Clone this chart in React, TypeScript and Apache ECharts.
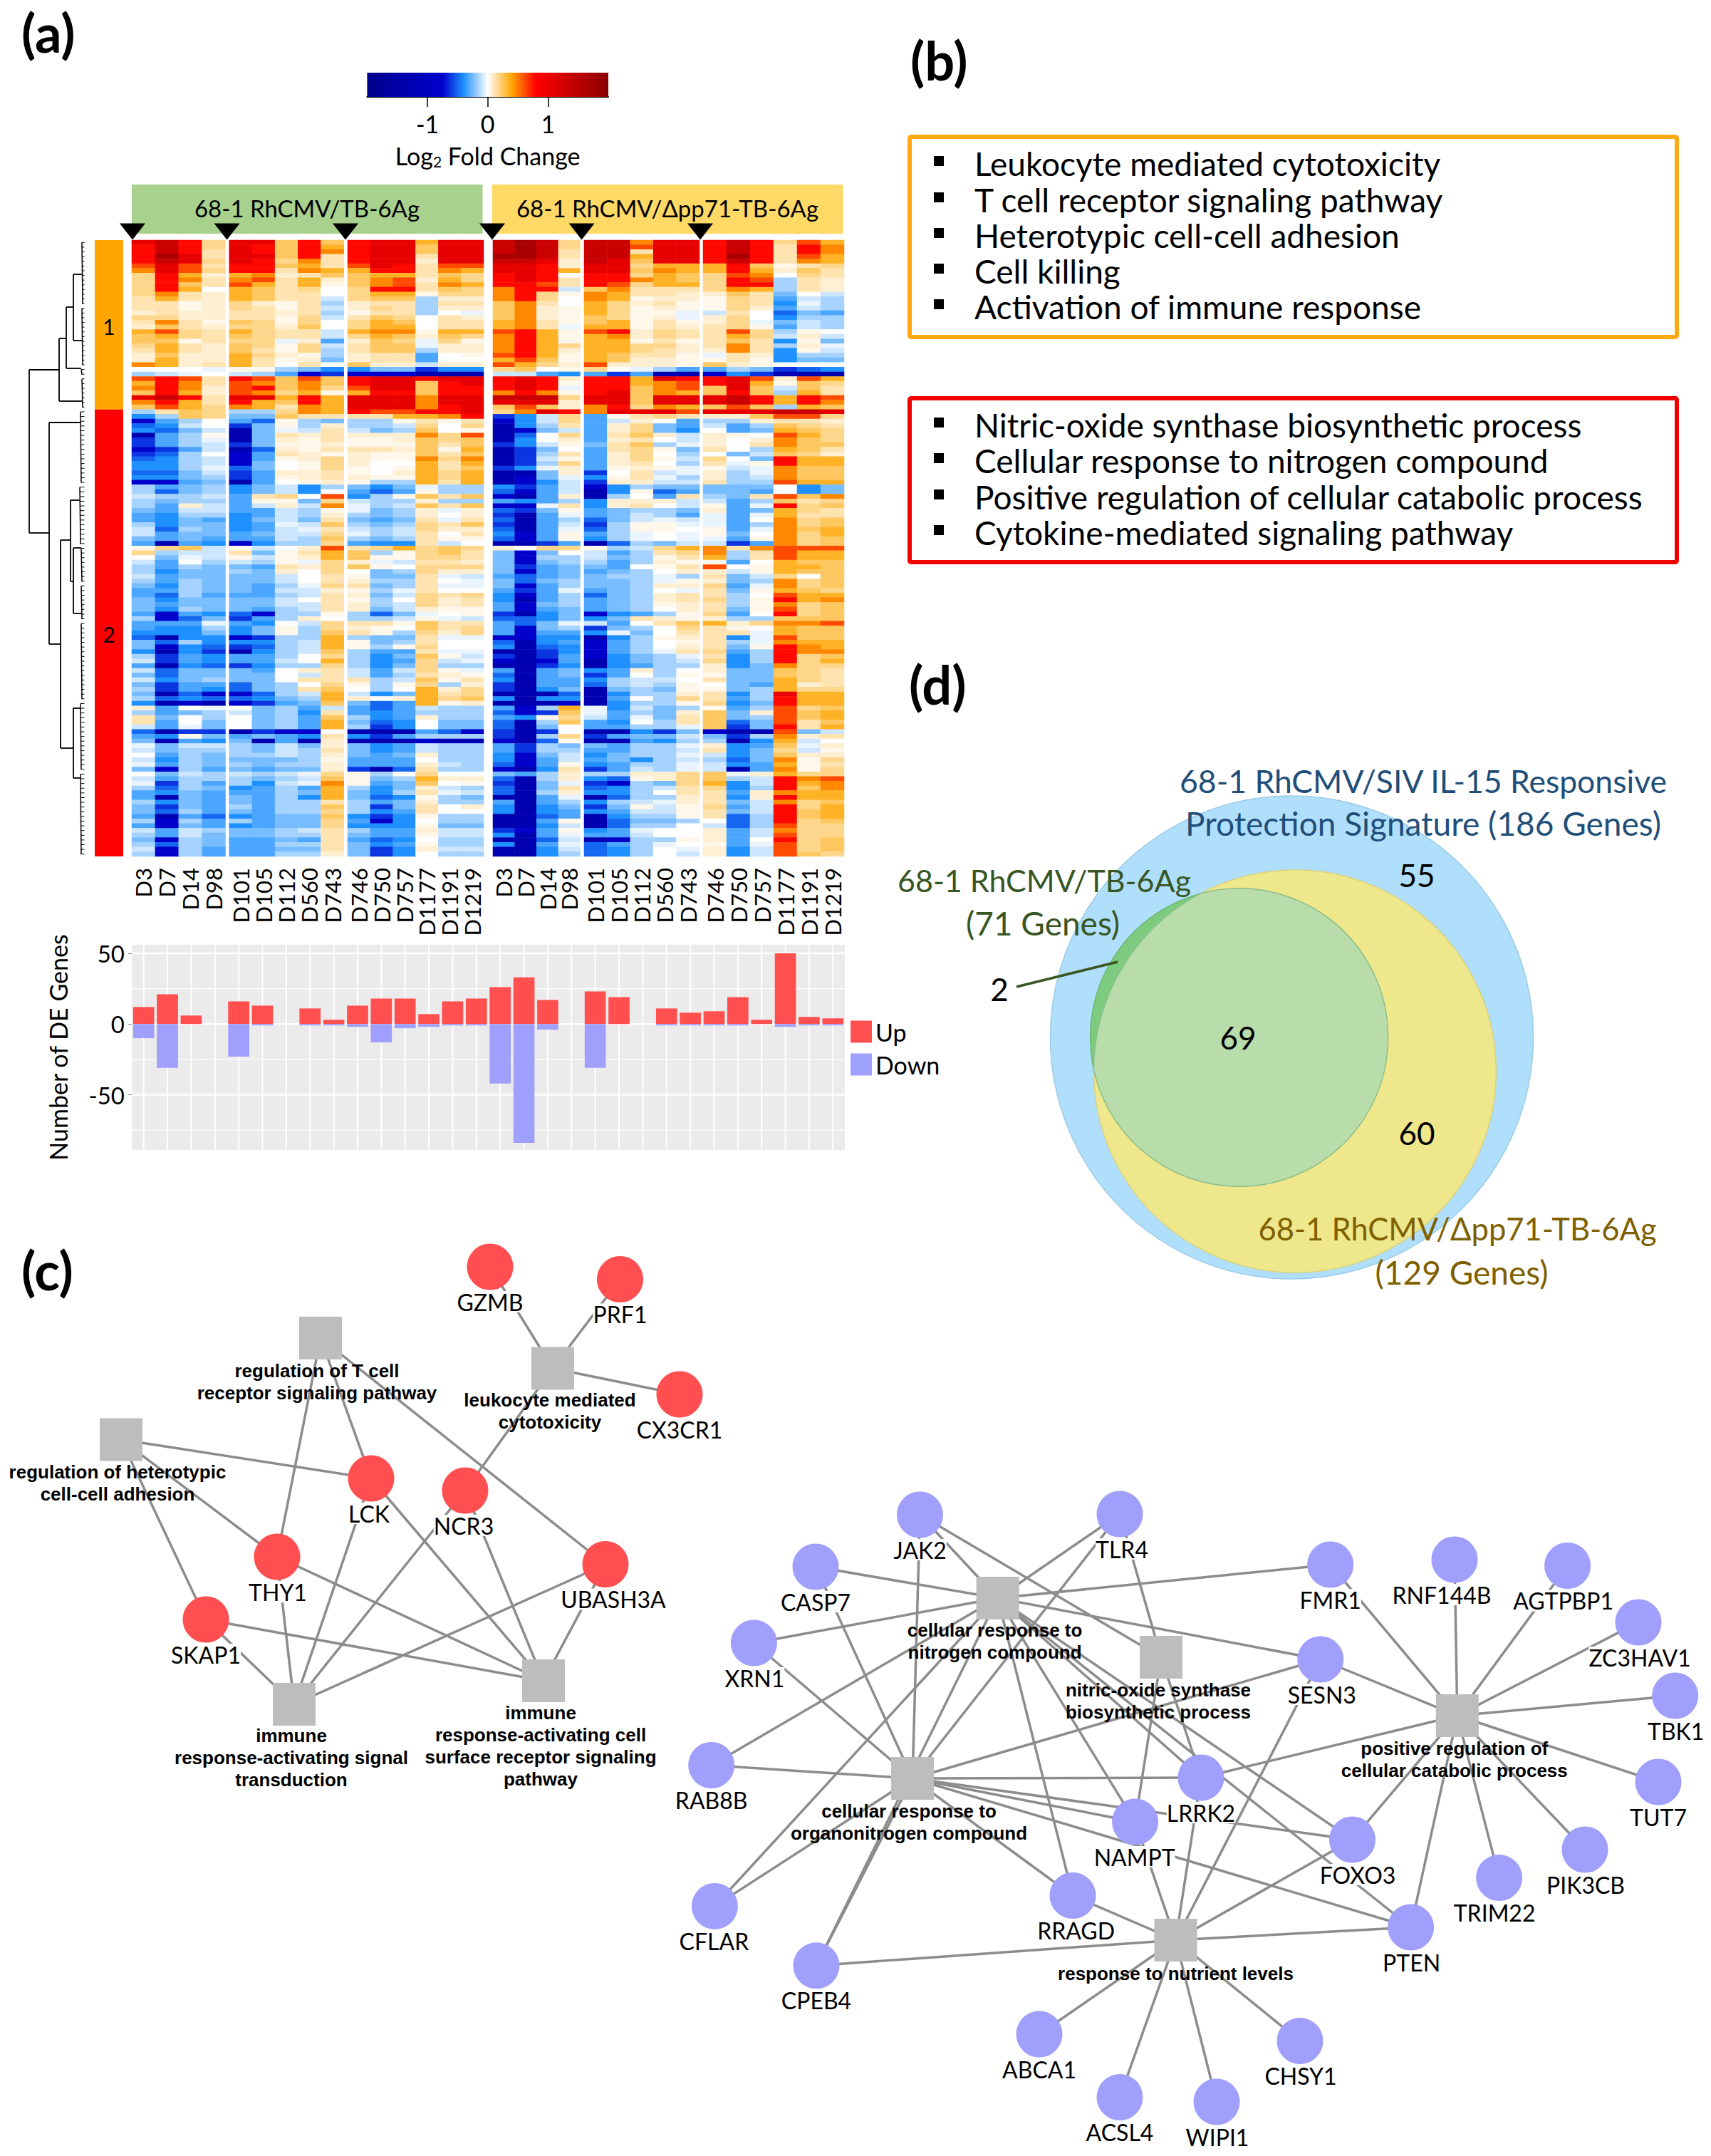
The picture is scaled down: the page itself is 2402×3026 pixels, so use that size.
import React, { useEffect, useRef } from "react";
import * as echarts from "echarts";

const days = ["D3","D7","D14","D98","D101","D105","D112","D560","D743","D746","D750","D757","D1177","D1191","D1219"];
const blockSizes = [4,5,6,4,5,6];
const blockLeft = [185,321.7,488,692,820,987];
const blockRight = [316.5,482.7,679,814.5,982,1185];
const heatTop = 337, heatBottom = 1202;

const cellLevels: Record<string, number> = {
  j:-1.3,i:-0.8,h:-0.62,g:-0.5,f:-0.4,e:-0.32,d:-0.24,c:-0.16,b:-0.09,a:-0.04,
  "0":0,"1":0.035,"2":0.07,"3":0.12,"4":0.18,"5":0.25,"6":0.34,"7":0.47,"8":0.62,"9":0.78,A:1.05,B:1.35,C:1.7,
};
const heatRows = [
"AB94 AA595 9AA6AA BCB4 BB7AA 9B9486","9B94 A9596 9AA5AA BCB4 BB8AA 9B9397","9B93 A9597 9AA5AA BCB3 BB3AA 9B9397",
"9CA3 AA593 9AA3AA CCB3 BB6AA 9C9386","9BA4 A9473 9AA2AA BBA2 BA5AA 9B9376","8A83 99563 8A9388 AA92 AA466 695134",
"7A84 99376 699376 AA96 AA576 696253","4962 67235 566354 9A90 99465 487043","4973 78362 578264 9A93 99765 498c32",
"4953 86361 578376 9983 98466 499c32","4960 65340 499354 799b 57333 476c32","4732 65330 466144 7941 76332 253d0b",
"3632 6533b 455c22 7940 76122 143ebc","3312 4213c 233c33 5730 64231 143fac","3312 4313b 243c22 5721 64121 142ebc",
"2322 3323c 133c0a 5721 6411a b30gde","4422 3314b 354032 5721 5412a 240fcc","3731 54140 465033 6731 56131 24adbc",
"2532 44250 466033 673a 66132 341ebc","6843 6433b 677166 8961 89243 384c10","5643 5433b 465254 7961 67243 364b2b",
"5513 44a2e 254a41 7961 66131 353f1d","4632 5414b 355a22 7964 66442 373c2a","3632 5314c 355c22 7962 66432 273f1b",
"2522 6421c 233e01 8961 65331 a32fcc","2622 6312d 233e00 6851 65221 131fdd","7623 63030 522b22 8642 82221 521000",
"000a 11cdf fddhff 4501 40ace ecdhgf","cba0 bceih iiijjj bbef ehejj ifhjjj","8983 98585 9AA9AA 9A92 996A9 9A8286",
"6973 87575 9AA59A 9A91 99678 9A6154","7972 89574 8AA599 9A9a 99578 5A5b53","5962 87461 699599 7971 9A576 595c63",
"AB93 AA696 AAA7AA BBB4 AA5AA AB9698","7963 96596 AAA7AA AAA2 AA5AA AB9697","5864 76376 AAA79A 5852 79476 585c65",
"c354 cc476 98899A 47A9 7AAA8 AAABBA","fc54 dd533 336679 hfb4 e1343 225884","iec0 eg1cd cc1313 ifb4 eb20e cc2332",
"gfb0 hd1c2 ccb404 jfc3 e24de bec543","fgdb jdab3 bdc501 jidb e24df 0ed654","jec1 jd323 222748 jg04 e352b 210864",
"heca jd213 112545 jf02 e230b 202754","hecb hd112 111535 hfb1 d35ca 203755","iheb jg213 332516 jhd0 e341d 30c653",
"hgc0 ie321 211535 jhc3 e240c 0db542","gfcb ie124 211747 jhb1 e241b 40d966","ffcb id014 200636 jhc4 e230c 3a1966",
"ffca gd014 101635 hfa2 e121a 1ba755","ggdb he223 102646 jjd2 h03ba 2ca755","ffdc he123 211646 jida f13ac 2cb755",
"iied je012 1cc636 jifb h22bb 3cc866","cedc fdbfc dfdacc fheb ifcdd ddd0fd","cgdc fdbf0 ege1cc gieb jf1ge dde0fd",
"bccb e3408 fc1535 ije2 jc0e3 cd3857","cdcc e11d4 bcc2cc efec f222b bec534","ce2b eb2b7 acb535 iia3 f230b 1ea945",
"debb eebc1 adc2a2 ghd1 edccd 2ed643","efcc febc2 cdc202 hjea edbce aea633","efde fdbd3 ded3a3 gjec gdbab ae0745",
"cfdd feab5 cdc435 hjeb hc11a aec745","bgcd feba3 bcb422 gjea gc110 1ea756","bedd edbb4 acb303 fie1 eca0a 1d0746",
"dede eebc5 cdc311 gie1 fca0a ae1745","ejef ifcc4 eff3b0 jjhe jgcdb bhe745","145b 1b028 346454 2044 1cb46 737888",
"4cbb 3d136 5c1453 did0 bec34 7c3866","0dab 1b126 511443 dicc bdc13 6c3866","be0c bc1a4 2ab332 didc cec21 1e0655",
"cecd de324 510444 dhed de013 801665","cfdd cd204 0dc422 died edc02 2b1655","bedd ddb03 1dd3ab eged dccac 3db405",
"cecd ddb03 2cc30a dgdc ddca1 2dc745","dfcd deca4 3dc3aa diec ddc22 4ea745","eecd debb2 1ca300 ehea edc0a 3d1654",
"egce eecb3 2db434 fiec gdc23 3c0866","dfdd ddb03 1c0423 fjec edc23 4c1967","dedd ddbb3 2cb423 eidc edc12 3c1745",
"dfcd decb3 2db211 eied edc02 3d1845","eief gicc1 cgda01 hjfd ifec1 4e0945","cigd hec20 ccb1ab ggfd fd321 2cc555",
"eeea ef0b4 331533 egda be035 624778","effc fd1c4 210534 eidc hdc04 310655","fffd fd1c5 31c424 eiee fad03 33a655",
"gjff ihcc6 cdd3aa iiff jfc12 3fa855","dgcf ffcb6 1dc300 gjfe iec01 3ca766","difg hgcb6 1c1400 fjgf iec02 3d1976",
"fjfh jfcb5 cee3aa jjhf ieca3 4ec977","chef eec04 cfd51b hjhe ifdca 3fc945","bhef eeb06 cfe4ba ijie jfdcb 4fc946",
"ejfg hfcc4 cfd4cc jjhf jfecc 2fd744","bgdd de023 beb41a ejed fe2c0 2dd543","dgdd dd0b3 bec321 gjed he0c1 1dd543",
"bfdc dd033 3cb513 fjee fcbb0 3dd643","dhee gdc04 1c14c2 hjee gcbc1 0de623","chef gdc35 0c0624 hjfd jdcd1 1dc644",
"djgi igcb6 bfd634 jjjg jfcc2 3fcA66","cgfg gfdc6 202645 fjff je0c4 3ec966","fjij ihed5 dge612 jjji jfcc1 4fd966",
"2e0a 0dceb egebcc eic6 afbdc 1ec845","cedc bdcf3 efeccc gih5 aecd2 5d2856","3d0c 0dce5 cfe2cc ef14 bead3 5dc856",
"3e0d 0dce6 dgf0dd gjc5 ef0c3 5gd835","bead 0dce6 chf0dd gjd0 eecca 5hd936","gjhh jhii0 jjjegi hjh0 jjfhd ijj8db",
"ef1d edef3 fheccc hjc4 heddb dhc723","djef djej2 jjjijj ijg1 jjefc cjf6b0","adbb cdbd2 dfebcc ehcd decca 2fe5a2",
"bdcc cdbc3 dfebcc ehcc eeccb 3fd4b1","0ecd ccbc2 ded2cc fidb fdcca bfd522","bfcd dddc1 eee0cc fieb edfcb cgd714",
"aecd cdcc2 eee2bc gie1 fecca bfe613","dice dedd2 hjg3cc ijf3 hebca bje714","0dbc bcba4 1c0400 dec2 cc224 5a2644",
"becc cdcb5 1dc622 gjc2 fg124 5cb978","ahce cfba7 1ed501 hjda hicd4 6fb967","cgcd fece6 cfd2bc gjd3 gfcb3 4fc957",
"efde eecd6 dfc3ab gjc2 ffc03 3e2766","ejde decf6 dgf1cd jjea jgcc2 3f2966","cfde decc3 ced2cc ejec fcba2 3db745",
"dhde cecc5 chd302 fjfd hd1b1 4eb946","dgce decc4 cfe300 fjfe febb1 3db956","ejeg fedd5 fhf1cc jjge jfcc1 3gc956",
"cice cedd4 eif0cc jje1 jgddc 0gc945","eide fedd4 fff1dd jjfb jgcc0 bgc844","bebc ddcb3 cee2bb hie1 fea00 2eb744",
"cebd ddcc3 dee1bb fjea eeb00 2eb844","dicd eede3 egf0cc jjgb jicc1 2e0945","cgcd eecc3 dfe1cc fjea geca0 1ea845",
"bice eedd3 dhf2bb jjfb gfc0a 2fb845","cice eecc2 dhf0cc jjfc gfc0b 2fb854",
];

const colorStops: [number, string][] = [[-2,"#00008b"],[-0.75,"#0000cd"],[-0.4,"#1e90ff"],[0,"#ffffff"],[0.4,"#ffa500"],[0.8,"#ff0000"],[2,"#8b0000"]];
const clusterSpans = [{ name:"1", from:0, to:36, color:"#ffa500" },{ name:"2", from:36, to:131, color:"#ff0000" }];

const deUp = [12,21,6,0,16,13,0,11,3,13,18,18,7,16,18,26,33,17,0,23,19,0,11,8,9,19,3,50,5,4];
const deDown = [-10,-31,0,0,-23,-1,0,-1,-1,-2,-13,-3,-2,-1,-1,-42,-84,-4,0,-31,0,0,-1,-1,-1,-1,0,-2,-1,-1];
const gridMajor = [-50,0,50];
const gridMinor = [-75,-25,25];

const dendroSegments = [
[41,519,41,748],[41,519,83,519],[83,475,83,563],[83,563,115,563],[83,475,93,475],[93,431,93,517],[93,517,114,517],[93,431,103,431],
[103,385,103,478],[103,385,115,385],[103,478,115,478],[41,748,69,748],[69,593,69,904],[69,593,109,593],[109,593,113,593],[69,904,85,904],
[85,758,85,1050],[85,758,99,758],[99,702,99,816],[99,702,112,702],[99,816,103,816],[103,769,103,861],[103,769,114,769],[103,861,114,861],
[85,1050,103,1050],[103,994,103,1092],[103,994,113,994],[103,1092,113,1092],
];
const dendroCombs = [[115,0,13],[115,14,26],[114,27,28],[115,29,35],[113,36,51],[112,52,64],[114,65,72],[114,73,80],[114,81,97],[113,98,112],[113,113,130]];

const triangleX = [186,318.6,485,691,816.6,983];

const redGenes: [string,number,number,number][] = [
["GZMB",688,1778,0],["PRF1",870.5,1795.5,0],["CX3CR1",954,1957,0],["LCK",521,2075,-3],["NCR3",653,2092,-2],["THY1",389,2185,1],["UBASH3A",850,2195.5,11],["SKAP1",289,2273,0],
];
const blueGenes: [string,number,number,number][] = [
["JAK2",1291.5,2126,0],["TLR4",1572,2125,3],["CASP7",1145,2199,0],["XRN1",1058.4,2306,1],["FMR1",1867.7,2196,0],["RNF144B",2042,2189,-18],["AGTPBP1",2200.6,2197.5,-6],
["ZC3HAV1",2300,2277,2],["TBK1",2351.7,2380,1],["SESN3",1853.8,2329,2],["RAB8B",998.7,2477.5,0],["LRRK2",1686,2495,0],["NAMPT",1593.6,2557,-1],["FOXO3",1898.5,2582,7.5],
["TUT7",2328,2501,0],["PIK3CB",2225,2596,1],["TRIM22",2104.6,2635.6,-6.5],["PTEN",1980.6,2705,1],["RRAGD",1506,2660.5,4.6],["CFLAR",1003.4,2675.4,-1],["CPEB4",1146,2758.8,0],
["ABCA1",1459,2855,0],["ACSL4",1572,2943.6,0],["WIPI1",1708,2950,1],["CHSY1",1825,2864.6,1],
];
const termNodes: [string,number,number,string,number,number][] = [
["tcell",450,1878,"regulation of T cell\nreceptor signaling pathway",-5,61],
["leuko",776,1920.5,"leukocyte mediated\ncytotoxicity",-4,60],
["hetero",170,2020.5,"regulation of heterotypic\ncell-cell adhesion",-5,61],
["signal",413,2392,"immune\nresponse-activating signal\ntransduction",-4,75],
["surface",763,2359,"immune\nresponse-activating cell\nsurface receptor signaling\npathway",-4,91],
["nitro",1400.6,2243,"cellular response to\nnitrogen compound",-4,60],
["nos",1630,2326,"nitric-oxide synthase\nbiosynthetic process",-4,61],
["catab",2045.8,2408,"positive regulation of\ncellular catabolic process",-4,61],
["organo",1281,2496,"cellular response to\norganonitrogen compound",-5,61],
["nutrient",1650.5,2723,"response to nutrient levels",0,47],
];
const termLinks: [string,string[]][] = [
["leuko",["GZMB","PRF1","CX3CR1","NCR3"]],
["tcell",["THY1","LCK","UBASH3A"]],
["hetero",["LCK","THY1","SKAP1"]],
["signal",["SKAP1","THY1","LCK","NCR3","UBASH3A"]],
["surface",["SKAP1","THY1","LCK","NCR3","UBASH3A"]],
["nitro",["JAK2","TLR4","CASP7","XRN1","FMR1","SESN3","RAB8B","CFLAR","LRRK2","NAMPT","FOXO3","RRAGD","CPEB4","PTEN"]],
["organo",["XRN1","CASP7","JAK2","TLR4","SESN3","RAB8B","LRRK2","NAMPT","FOXO3","RRAGD","CFLAR","CPEB4","PTEN"]],
["nos",["JAK2","TLR4","LRRK2","NAMPT"]],
["catab",["FMR1","RNF144B","AGTPBP1","ZC3HAV1","TBK1","SESN3","TUT7","PIK3CB","TRIM22","PTEN","FOXO3","LRRK2"]],
["nutrient",["RRAGD","NAMPT","LRRK2","SESN3","FOXO3","PTEN","CPEB4","ABCA1","ACSL4","WIPI1","CHSY1"]],
];

const vennCircles = [[1813.5,1456,339],[1818,1503.6,282.5],[1739.6,1456,209]];
const vennFills = ["#b0dffb","#efe78b","#7ccb7e"];
const vennStrokes = ["#9ccbe8","#d9d27f","#6fb874"];
const lensFill = "#b9dcab";

const orangeList = ["Leukocyte mediated cytotoxicity","T cell receptor signaling pathway","Heterotypic cell-cell adhesion","Cell killing","Activation of immune response"];
const orangeY = [229,280,330,380,430];
const redList = ["Nitric-oxide synthase biosynthetic process","Cellular response to nitrogen compound","Positive regulation of cellular catabolic process","Cytokine-mediated signaling pathway"];
const redY = [596,646,697,747];

const SANS = "Lato";

function hexRgb(h: string) { return [1,3,5].map((i) => parseInt(h.slice(i,i+2),16)); }
function colorAt(v: number) {
  for (let i = 0; i < colorStops.length - 1; i++) {
    const [a, ca] = colorStops[i], [b, cb] = colorStops[i+1];
    if (v <= b) {
      const t = (v-a)/(b-a), x = hexRgb(ca), y = hexRgb(cb);
      return `rgb(${x.map((q,k)=>Math.round(q+(y[k]-q)*t)).join(",")})`;
    }
  }
  return colorStops[colorStops.length-1][1];
}

function buildOption() {
  const grids: any[] = [], xAxes: any[] = [], yAxes: any[] = [], series: any[] = [];
  let startCol = 0;
  const rowNames = heatRows.map((_,i)=>String(i));
  const dayOf = (c:number)=>days[c%15];
  blockSizes.forEach((n,b)=>{
    grids.push({ left:blockLeft[b], top:heatTop, width:blockRight[b]-blockLeft[b], height:heatBottom-heatTop });
    const names = Array.from({length:n},(_,i)=>dayOf(startCol+i));
    xAxes.push({ type:"category", gridIndex:b, data:names, axisLine:{show:false}, axisTick:{show:false},
      axisLabel:{ rotate:90, interval:0, margin:16, fontFamily:SANS, fontSize:31, color:"#000" } });
    yAxes.push({ type:"category", gridIndex:b, data:rowNames, inverse:true, show:false });
    const data:any[] = [];
    heatRows.forEach((row,r)=>{
      const part = row.split(" ")[b];
      for (let c=0;c<n;c++) data.push([c,r,cellLevels[part[c]]]);
    });
    series.push({ type:"heatmap", xAxisIndex:b, yAxisIndex:b, data, silent:true, progressive:0, itemStyle:{borderWidth:0} });
    startCol += n;
  });
  const heatIdx = series.map((_,i)=>i);

  // bars: grid 6
  grids.push({ show:true, left:185, top:1326, width:1001, height:288, backgroundColor:"#ebebeb", borderWidth:0 });
  xAxes.push({ type:"category", gridIndex:6, data:[...days,...days], axisLine:{show:false}, axisTick:{show:false}, axisLabel:{show:false} });
  yAxes.push({ type:"value", gridIndex:6, min:-89, max:56, splitLine:{show:false}, axisLine:{show:false},
    axisTick:{show:true, length:5, lineStyle:{color:"#7f7f7f"}, customValues:gridMajor},
    axisLabel:{ customValues:gridMajor, fontFamily:SANS, fontSize:33, color:"#000", margin:10 },
    name:"Number of DE Genes", nameLocation:"middle", nameGap:87, nameRotate:90, nameTextStyle:{fontFamily:SANS,fontSize:34,color:"#000"} });
  series.push({ type:"custom", name:"vgrid", xAxisIndex:6, yAxisIndex:6, z:1, silent:true, data:deUp.map((_,i)=>[i,0]),
    renderItem:(p:any,api:any)=>{ const x=api.coord([api.value(0),0])[0]; const c=p.coordSys;
      return { type:"line", shape:{x1:x,y1:c.y,x2:x,y2:c.y+c.height}, style:{stroke:"#fff",lineWidth:2} }; } });
  series.push({ type:"custom", name:"hgrid", xAxisIndex:6, yAxisIndex:6, z:1, silent:true,
    data:[...gridMajor.map(v=>[0,v,2.5]),...gridMinor.map(v=>[0,v,1.2])],
    renderItem:(p:any,api:any)=>{ const y=api.coord([0,api.value(1)])[1]; const c=p.coordSys;
      return { type:"line", shape:{x1:c.x,y1:y,x2:c.x+c.width,y2:y}, style:{stroke:"#fff",lineWidth:api.value(2)} }; } });
  series.push({ type:"bar", name:"Up", xAxisIndex:6, yAxisIndex:6, stack:"de", barWidth:"89%", data:deUp, itemStyle:{color:"#ff4f4f"}, z:2, silent:true });
  series.push({ type:"bar", name:"Down", xAxisIndex:6, yAxisIndex:6, stack:"de", barWidth:"89%", data:deDown, itemStyle:{color:"#9f9ffc"}, z:2, silent:true });

  // page grid: 7
  grids.push({ left:0, top:0, width:2402, height:3026 });
  xAxes.push({ type:"value", gridIndex:7, min:0, max:2402, show:false });
  yAxes.push({ type:"value", gridIndex:7, min:0, max:3026, inverse:true, show:false });

  // colour bar: 8
  grids.push({ left:515.4, top:102, width:338.6, height:34 });
  xAxes.push({ type:"value", gridIndex:8, min:-2, max:2, interval:1, splitLine:{show:false},
    axisLine:{show:true,lineStyle:{color:"#000",width:2}}, axisTick:{show:true,length:14,lineStyle:{color:"#000",width:1.5},customValues:[-1,0,1]},
    axisLabel:{customValues:[-1,0,1],margin:20,fontFamily:SANS,fontSize:34,color:"#000"},
    name:"{n|Log}{s|2}{n| Fold Change}", nameLocation:"middle", nameGap:63,
    nameTextStyle:{ rich:{ n:{fontFamily:SANS,fontSize:34,color:"#000",lineHeight:38}, s:{fontFamily:SANS,fontSize:21,color:"#000",verticalAlign:"bottom",lineHeight:21} } } });
  yAxes.push({ type:"value", gridIndex:8, min:0, max:1, show:false });
  series.push({ type:"custom", xAxisIndex:8, yAxisIndex:8, silent:true, data:[[-2,0]],
    renderItem:(p:any,api:any)=>{ const c=p.coordSys;
      return { type:"rect", shape:{x:c.x,y:c.y,width:c.width,height:c.height},
        style:{ fill:new echarts.graphic.LinearGradient(0,0,1,0,colorStops.map(([v,col])=>({offset:(v+2)/4,color:col}))) } }; } });

  // cluster bar: 9
  grids.push({ left:133, top:heatTop, width:40, height:heatBottom-heatTop });
  xAxes.push({ type:"value", gridIndex:9, min:0, max:1, show:false });
  yAxes.push({ type:"value", gridIndex:9, min:0, max:131, inverse:true, show:false });
  series.push({ type:"custom", xAxisIndex:9, yAxisIndex:9, silent:true, data:clusterSpans.map((s,i)=>[i,s.from,s.to]),
    renderItem:(p:any,api:any)=>{ const i=api.value(0), a=api.coord([0,api.value(1)]), b=api.coord([1,api.value(2)]);
      return { type:"group", children:[
        { type:"rect", shape:{x:a[0],y:a[1],width:b[0]-a[0],height:b[1]-a[1]}, style:{fill:clusterSpans[i].color} },
        { type:"text", x:(a[0]+b[0])/2, y:(clusterSpans[i].from===0?458:890), style:{text:clusterSpans[i].name,font:`30px ${SANS}`,fill:"#000",textAlign:"center",textVerticalAlign:"middle"} },
      ]}; } });

  // dendrogram on page grid
  series.push({ type:"custom", xAxisIndex:7, yAxisIndex:7, silent:true, data:dendroSegments,
    renderItem:(_:any,api:any)=>{ const a=api.coord([api.value(0),api.value(1)]), b=api.coord([api.value(2),api.value(3)]);
      return { type:"line", shape:{x1:a[0],y1:a[1],x2:b[0],y2:b[1]}, style:{stroke:"#000",lineWidth:1.8} }; } });
  const rowH = (heatBottom-heatTop)/131;
  series.push({ type:"custom", xAxisIndex:7, yAxisIndex:7, silent:true, data:dendroCombs,
    renderItem:(_:any,api:any)=>{ const x=api.value(0), r0=api.value(1), r1=api.value(2);
      const kids:any[]=[{type:"line",shape:{x1:x,y1:heatTop+rowH*(r0+.5),x2:x+1,y2:heatTop+rowH*(r1+.5)},style:{stroke:"#000",lineWidth:1.5}}];
      for(let r=r0;r<=r1;r++){ const y=heatTop+rowH*(r+.5); kids.push({type:"line",shape:{x1:x,y1:y,x2:118.5,y2:y},style:{stroke:"#000",lineWidth:1}}); }
      return {type:"group",children:kids}; } });

  // triangles
  series.push({ type:"scatter", xAxisIndex:7, yAxisIndex:7, silent:true, z:5, symbol:"triangle", symbolRotate:180, symbolSize:[36,23],
    itemStyle:{color:"#000",opacity:1}, data:triangleX.map(x=>[x,325]) });

  // venn
  series.push({ type:"custom", xAxisIndex:7, yAxisIndex:7, silent:true, z:2, data:vennCircles.map((c,i)=>[...c,i]),
    renderItem:(_:any,api:any)=>{ const i=api.value(3), c=api.coord([api.value(0),api.value(1)]);
      return { type:"circle", shape:{cx:c[0],cy:c[1],r:api.value(2)}, style:{fill:vennFills[i],stroke:vennStrokes[i],lineWidth:1.5} }; } });
  const [, Y, G] = vennCircles;
  series.push({ type:"custom", xAxisIndex:7, yAxisIndex:7, silent:true, z:3, data:[[Y[0],Y[1]]],
    renderItem:(_:any,api:any)=>{
      const a=api.coord([Y[0],Y[1]]), b=api.coord([G[0],G[1]]);
      const dx=b[0]-a[0], dy=b[1]-a[1], d=Math.hypot(dx,dy), R=Y[2], r=G[2];
      const h0=(d*d+R*R-r*r)/(2*d), h=Math.sqrt(R*R-h0*h0), ux=dx/d, uy=dy/d;
      const mx=a[0]+h0*ux, my=a[1]+h0*uy;
      const q1=[mx+uy*h, my-ux*h], q2=[mx-uy*h, my+ux*h];
      const up = q1[0]>q2[0] ? q1 : q2, low = q1[0]>q2[0] ? q2 : q1;
      return { type:"path", shape:{ pathData:`M${up[0]} ${up[1]} A${R} ${R} 0 0 0 ${low[0]} ${low[1]} A${r} ${r} 0 1 0 ${up[0]} ${up[1]} Z` },
        style:{fill:lensFill,stroke:"#8fbf8f",lineWidth:1.2} };
    } });

  // network
  const nodes:any[] = [];
  const geneNode=(g:[string,number,number,number],color:string)=>({ name:g[0], value:[g[1],g[2]], symbol:"circle", symbolSize:65, itemStyle:{color},
    label:{show:true,position:"inside",offset:[g[3],49],formatter:g[0],fontFamily:SANS,fontSize:32,color:"#000",backgroundColor:"#fff",lineHeight:30} });
  redGenes.forEach(g=>nodes.push(geneNode(g,"#ff4f50")));
  blueGenes.forEach(g=>nodes.push(geneNode(g,"#a0a0fc")));
  termNodes.forEach(t=>nodes.push({ name:t[0], value:[t[1],t[2]], symbol:"rect", symbolSize:60, itemStyle:{color:"#bdbdbd"},
    label:{show:true,position:"inside",offset:[t[4],t[5]],formatter:t[3],fontFamily:"Liberation Sans",fontWeight:"bold",fontSize:26,color:"#000",lineHeight:31,align:"center"} }));
  const links:any[]=[];
  termLinks.forEach(([t,gs])=>gs.forEach(g=>links.push({source:t,target:g})));
  series.push({ type:"graph", layout:"none", coordinateSystem:"cartesian2d", xAxisIndex:7, yAxisIndex:7, silent:true, z:4, roam:false,
    data:nodes, links, lineStyle:{color:"#8c8c8c",width:3.5,opacity:1,curveness:0}, emphasis:{disabled:true} });

  const T=(text:string,x:number,y:number,font:string,fill="#000",align="center")=>({ type:"text", z:100, x, y,
    style:{text,font,fill,textAlign:align,textVerticalAlign:"middle"} });
  const BOLD=`bold 74px ${SANS}`, LIST=`46px ${SANS}`, NUM=`44px ${SANS}`;
  const elements:any[] = [
    { type:"rect", z:1, shape:{x:185,y:259,width:492.5,height:69}, style:{fill:"#a9d18e"} },
    { type:"rect", z:1, shape:{x:691,y:259,width:492.5,height:69}, style:{fill:"#ffd966"} },
    T("68-1 RhCMV/TB-6Ag",431,292,`33px ${SANS}`),
    T("68-1 RhCMV/Δpp71-TB-6Ag",937,292,`33px ${SANS}`),
    T("(a)",30,45,BOLD,"#000","left"),
    T("(b)",1278,84,BOLD,"#000","left"),
    T("(c)",30,1782,BOLD,"#000","left"),
    T("(d)",1276,960,BOLD,"#000","left"),
    { type:"rect", z:1, shape:{x:1277,y:192,width:1077,height:281,r:2}, style:{fill:"none",stroke:"#ffa812",lineWidth:6} },
    { type:"rect", z:1, shape:{x:1277,y:559,width:1077,height:230,r:2}, style:{fill:"none",stroke:"#f00000",lineWidth:6} },
    T("68-1 RhCMV/SIV IL-15 Responsive",1998,1095,`44.5px ${SANS}`,"#1f4e79"),
    T("Protection Signature (186 Genes)",1998,1155,`46px ${SANS}`,"#1f4e79"),
    T("68-1 RhCMV/TB-6Ag",1466,1235,`43px ${SANS}`,"#375623"),
    T("(71 Genes)",1464,1295,`46px ${SANS}`,"#375623"),
    T("68-1 RhCMV/Δpp71-TB-6Ag",2046,1724,`43.5px ${SANS}`,"#7f6000"),
    T("(129 Genes)",2052,1785,`46px ${SANS}`,"#7f6000"),
    T("2",1403,1388,NUM), T("55",1989,1228,NUM), T("69",1738,1456,NUM), T("60",1989,1590,NUM),
    { type:"line", z:99, shape:{x1:1427,y1:1385,x2:1569,y2:1350}, style:{stroke:"#375623",lineWidth:3.5} },
  ];
  orangeList.forEach((t,i)=>{ elements.push(T(t,1368,orangeY[i],LIST,"#000","left")); elements.push({type:"rect",z:100,shape:{x:1311,y:orangeY[i]-10,width:14,height:14},style:{fill:"#000"}}); });
  redList.forEach((t,i)=>{ elements.push(T(t,1368,redY[i],LIST,"#000","left")); elements.push({type:"rect",z:100,shape:{x:1311,y:redY[i]-10,width:14,height:14},style:{fill:"#000"}}); });

  const ramp:string[]=[]; for(let k=0;k<=160;k++) ramp.push(colorAt(-2+k*4/160));

  return {
    animation:false, backgroundColor:"#fff", grid:grids, xAxis:xAxes, yAxis:yAxes, series,
    visualMap:{ type:"continuous", show:false, min:-2, max:2, dimension:2, seriesIndex:heatIdx, inRange:{color:ramp} },
    legend:{ data:["Up","Down"], orient:"vertical", left:1194, top:1431, padding:0, itemWidth:30, itemHeight:31, itemGap:12, icon:"rect", selectedMode:false,
      textStyle:{fontFamily:SANS,fontSize:34,color:"#000"} },
    graphic:{ elements },
  };
}

export default function App() {
  const ref = useRef<HTMLDivElement>(null);
  useEffect(() => {
    const chart = echarts.init(ref.current!, null, { renderer: "svg" });
    chart.setOption(buildOption());
    return () => chart.dispose();
  }, []);
  return <div ref={ref} style={{ position:"absolute", left:0, top:0, width:2402, height:3026, background:"#fff" }} />;
}
